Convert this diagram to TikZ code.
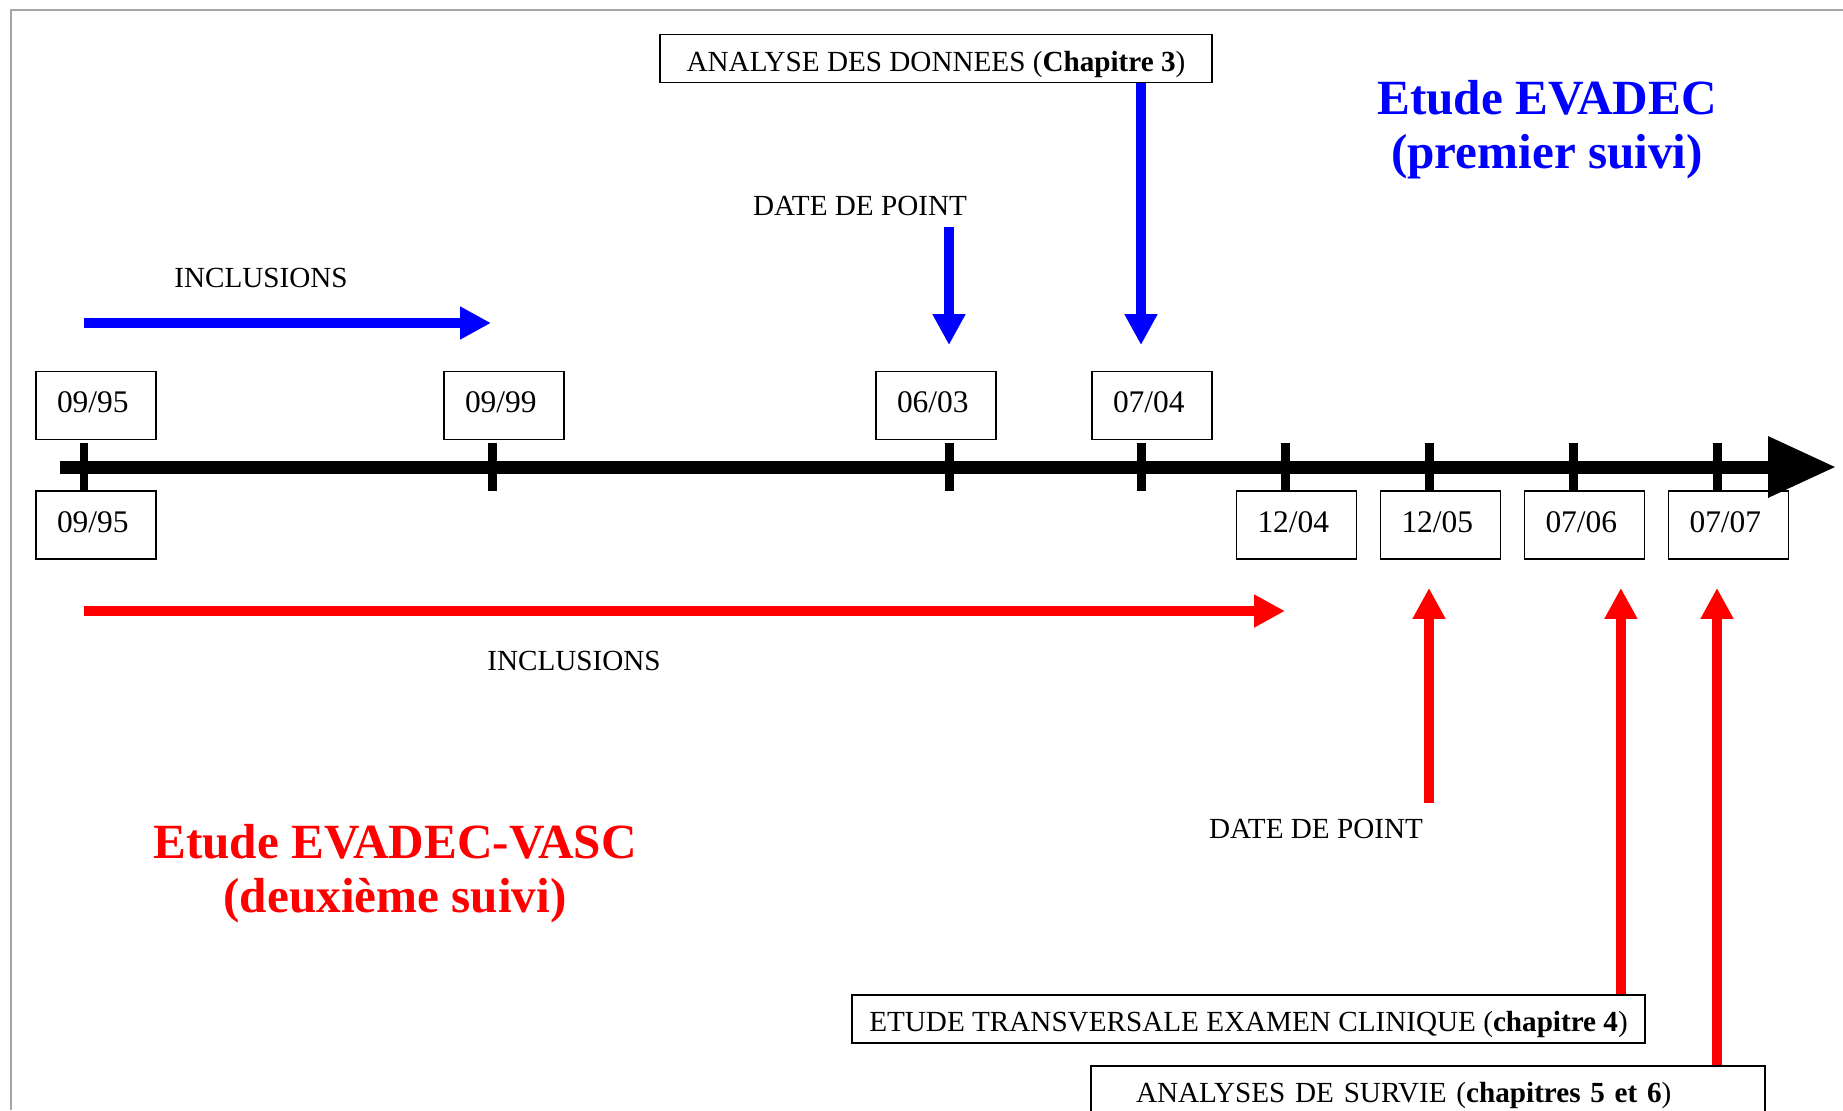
\documentclass[tikz,border=0pt]{standalone}
\usepackage{fontspec}
\setmainfont{Liberation Serif}
\usetikzlibrary{calc,arrows.meta}
\tikzset{
  datebox/.style={draw, line width=1.1pt, minimum width=2.4cm, minimum height=1.36cm, inner ysep=0pt, inner xsep=0.42cm, text width=1.56cm, align=left, text height=0.43cm, text depth=0.15cm, font=\fontsize{17.9}{20}\selectfont},
  textbox/.style={draw, line width=1.1pt, minimum height=0.96cm, inner ysep=0.05cm, text height=0.6cm, text depth=0.1cm},
  bigarrow/.style={line width=0.2cm, -{Triangle[length=0.62cm,width=0.62cm]}},
  titletext/.style={font=\fontsize{28}{31}\selectfont\bfseries, align=center},
}

\begin{document}
\begin{tikzpicture}[x=0.02cm, y=-0.02cm, every node/.style={font=\fontsize{16.6}{20}\selectfont}]
        \useasboundingbox (0,0) rectangle (1843,1110);
        \clip (0,0) rectangle (1843,1110);
        \draw[gray!70, line width=1.5pt] (11,1110) -- (11,10) -- (1843,10);
        \draw[line width=0.26cm, -{Triangle[length=1.36cm,width=1.16cm]}] (60,467) -- (1836,467);
        \foreach \x [count=\i] in {84,492,949,1141,1285,1429,1573,1717}
        {
        \coordinate (t\i) at (\x,467);
        \draw[line width=0.18cm] (\x,443) -- (\x,491);
        }
        \foreach \x/\d/\n in {96/09\slash 95/0995, 504/09\slash 99/0999, 936/06\slash 03/0603, 1152/07\slash 04/0704}
        \node[datebox] (u\n) at (\x,405.5) {\d};
        \foreach \x/\d/\n in {96/09\slash 95/0995, 1296.5/12\slash 04/1204, 1440.5/12\slash 05/1205, 1584.5/07\slash 06/0706, 1728.5/07\slash 07/0707}
        \node[datebox] (l\n) at (\x,525) {\d};

        \node (inc1) at (261,278) {INCLUSIONS};
        \coordinate (bstart) at (84,323);
        \coordinate (bend) at (491,323);
        \draw[bigarrow, blue] (bstart) -- (bend);
        \node (dp1) at (860,206) {DATE DE POINT};
        \draw[bigarrow, blue, shorten <=0.1cm, shorten >=0.51cm] (t3 |- dp1.south) -- (t3 |- u0603.north);
        \node[textbox, minimum width=11.04cm] (analyse) at (936,58.5) {ANALYSE DES DONNEES (\textbf{Chapitre 3})};
        \draw[bigarrow, blue, shorten >=0.51cm] (t4 |- analyse.south) -- (t4 |- u0704.north);
        \node[titletext, blue] (evadec) at (1547,129.5) {Etude EVADEC\\(premier suivi)};

        \coordinate (rstart) at (84,611);
        \coordinate (rend) at (1285,611);
        \draw[bigarrow, red] (rstart) -- (rend);
        \node (inc2) at (574,661) {INCLUSIONS};
        \node (dp2) at (1316,829) {DATE DE POINT};
        \draw[bigarrow, red, shorten >=0.56cm, shorten <=0.2cm] (t6 |- dp2.north) -- (t6 |- l1205.south);
        \node[textbox, minimum width=15.86cm] (etude) at (1248.5,1019) {ETUDE TRANSVERSALE EXAMEN CLINIQUE (\textbf{chapitre 4})};
        \coordinate (a6) at ([xshift=-0.5cm]etude.north east);
        \draw[bigarrow, red, shorten >=0.56cm] (a6) -- (a6 |- l0706.south);
        \node[textbox, text width=11.68cm, inner xsep=0.9cm, align=left] (survie) at (1428,1090) {ANALYSES DE SURVIE (\textbf{chapitres 5 et 6})};
        \draw[bigarrow, red, shorten >=0.56cm] (t8 |- survie.north) -- (t8 |- l0707.south);
        \node[titletext, red] (vasc) at (395,873.5) {Etude EVADEC-VASC\\(deuxième suivi)};
\end{tikzpicture}
\end{document}
